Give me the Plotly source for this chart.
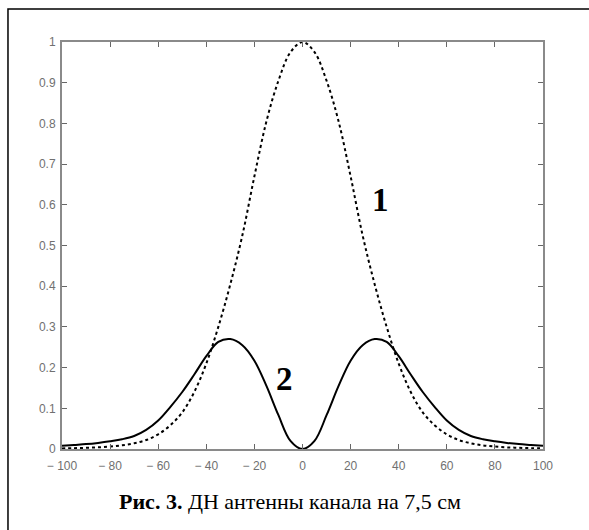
import plotly.graph_objects as go

# Angles (degrees)
angles = [-100, -95, -90, -85, -80, -75, -70, -65, -60, -55, -50, -45, -40, -35, -30, -25, -20, -15, -10, -5,
          0, 5, 10, 15, 20, 25, 30, 35, 40, 45, 50, 55, 60, 65, 70, 75, 80, 85, 90, 95, 100]

# Curve 1 (dashed)
curve1_half = [1.0, 0.975, 0.905, 0.805, 0.67, 0.525, 0.405, 0.30, 0.21, 0.14, 0.09,
               0.058, 0.036, 0.022, 0.014, 0.009, 0.006, 0.004, 0.003, 0.002, 0.0015]
curve1 = curve1_half[::-1] + curve1_half[1:]

# Curve 2 (solid)
curve2_half = [0.0, 0.02, 0.083, 0.155, 0.217, 0.255, 0.27, 0.263, 0.228, 0.183, 0.14,
               0.103, 0.07, 0.047, 0.032, 0.024, 0.019, 0.015, 0.012, 0.01, 0.008]
curve2 = curve2_half[::-1] + curve2_half[1:]

x_ticks = [-100, -80, -60, -40, -20, 0, 20, 40, 60, 80, 100]
x_tick_labels = ["− 100", "− 80", "− 60", "− 40", "− 20", "0", "20", "40", "60", "80", "100"]
y_ticks = [0, 0.1, 0.2, 0.3, 0.4, 0.5, 0.6, 0.7, 0.8, 0.9, 1]
y_tick_labels = ["0", "0.1", "0.2", "0.3", "0.4", "0.5", "0.6", "0.7", "0.8", "0.9", "1"]

caption = "<b>Рис. 3.</b> ДН антенны канала на 7,5 см"

fig = go.Figure()
fig.add_trace(go.Scatter(x=angles, y=curve1, mode="lines", line_shape="spline",
                         line=dict(color="black", width=2, dash="3px,3px"), hoverinfo="skip"))
fig.add_trace(go.Scatter(x=angles, y=curve2, mode="lines", line_shape="spline",
                         line=dict(color="black", width=2), hoverinfo="skip"))

axis_common = dict(showgrid=False, zeroline=False, showline=True, linecolor="#8a8a8a", linewidth=2,
                   mirror="ticks", ticks="inside", ticklen=5, tickwidth=1, tickcolor="#666",
                   tickfont=dict(family="Liberation Sans Narrow, Liberation Sans", size=12, color="#707070"))

fig.update_xaxes(range=[-100, 100], tickmode="array", tickvals=x_ticks, ticktext=x_tick_labels,
                 ticklabelstandoff=5, **axis_common)
fig.update_yaxes(range=[0, 1], tickmode="array", tickvals=y_ticks, ticktext=y_tick_labels,
                 ticklabelstandoff=2, **axis_common)

fig.add_annotation(x=32.6, y=0.612, text="<b>1</b>", showarrow=False, xanchor="center", yanchor="middle",
                   font=dict(family="Liberation Serif", size=33, color="black"))
fig.add_annotation(x=-7.3, y=0.172, text="<b>2</b>", showarrow=False, xanchor="center", yanchor="middle",
                   font=dict(family="Liberation Serif", size=33, color="black"))
fig.add_annotation(x=0.475, y=-0.130, xref="paper", yref="paper", text=caption, showarrow=False,
                   xanchor="center", yanchor="middle",
                   font=dict(family="Liberation Serif", size=22, color="black"))

# outer frame
fig.add_shape(type="rect", xref="paper", yref="paper", x0=-0.1123, x1=1.3, y0=-0.4, y1=1.081,
              line=dict(color="black", width=1.5), layer="below")

fig.update_layout(width=589, height=530, margin=dict(l=62, r=46, t=42, b=81),
                  paper_bgcolor="white", plot_bgcolor="white", showlegend=False)

fig.write_html("out.html", config={"displayModeBar": False},
               post_script="document.body.style.margin='0';document.body.style.overflow='hidden';")
